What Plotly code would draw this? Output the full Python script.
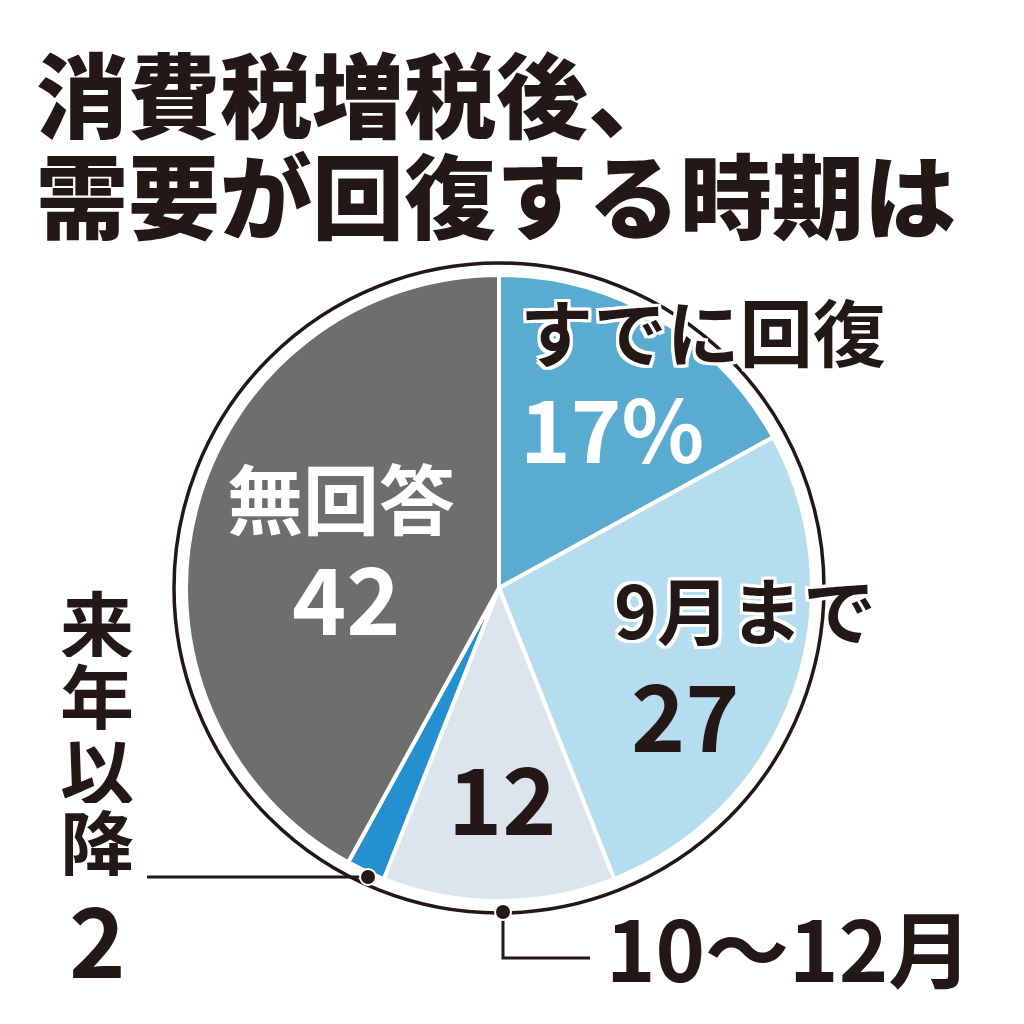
import plotly.graph_objects as go

# データ
labels = ["すでに回復", "9月まで", "10～12月", "来年以降", "無回答"]
values = [17, 27, 12, 2, 42]
colors = ["#5aabd0", "#b4ddef", "#dce4ee", "#2490cf", "#6e6e6e"]

W = H = 1024
OFF = 8  # ページ余白の補正
FONT = "Noto Sans CJK JP"
INK = "#231815"
HALO = ("white 3px 0px 0px, white -3px 0px 0px, white 0px 3px 0px, white 0px -3px 0px, "
        "white 3px 3px 0px, white -3px -3px 0px, white 3px -3px 0px, white -3px 3px 0px")


def px(x):
    return (x - OFF) / W


def py(y):
    return 1 - (y - OFF) / H


# 円の中心と半径 (ピクセル)
cx, cy, r = 499, 588, 313

fig = go.Figure(go.Pie(
    labels=labels, values=values,
    sort=False, direction="clockwise", rotation=0,
    marker=dict(colors=colors, line=dict(color="white", width=4)),
    textinfo="none", hoverinfo="label+value",
    domain=dict(x=[px(cx - r), px(cx + r)], y=[py(cy + r), py(cy - r)]),
    showlegend=False,
))

shapes = []
# 外側の黒い円
R = 325
shapes.append(dict(type="circle", xref="paper", yref="paper",
                   x0=px(cx - R), x1=px(cx + R), y0=py(cy + R), y1=py(cy - R),
                   line=dict(color=INK, width=3.5)))
# 引き出し線
shapes.append(dict(type="line", xref="paper", yref="paper",
                   x0=px(147), x1=px(368), y0=py(877), y1=py(877),
                   line=dict(color=INK, width=3)))
shapes.append(dict(type="path", xref="paper", yref="paper",
                   path=f"M {px(503)} {py(912)} L {px(503)} {py(958)} L {px(590)} {py(958)}",
                   line=dict(color=INK, width=3)))
# 点
for (x, y) in [(368, 877), (503, 912)]:
    shapes.append(dict(type="circle", xref="paper", yref="paper",
                       x0=px(x - 8), x1=px(x + 8), y0=py(y + 8), y1=py(y - 8),
                       fillcolor=INK, line=dict(color="white", width=2)))

annotations = []
DY = -7  # 文字の縦位置補正


def add_text(text, x, y, size, color=INK, halo=False, weight=700, xanchor="center", height=None):
    f = dict(family=FONT, size=size, color=color, weight=weight)
    if halo:
        f["shadow"] = HALO
    a = dict(text=text, x=px(x), y=py(y + DY), xref="paper", yref="paper",
             showarrow=False, xanchor=xanchor, yanchor="middle", font=f)
    if height:
        a["height"] = height
    annotations.append(a)


# タイトル
add_text("消費税増税後、", 34, 97, 92, weight=900, xanchor="left")
add_text("需要が回復する時期は", 34, 198, 92, weight=900, xanchor="left")

# ラベル
add_text("すでに回復", 703, 336, 73, halo=True)
add_text("17%", 612, 432, 86, color="white")
add_text("9月まで", 745, 614, 73, halo=True)
add_text("27", 685, 718, 92)
add_text("12", 502, 801, 92)
add_text("無回答", 341, 503, 76, color="white")
add_text("42", 346, 601, 92, color="white")
for i, ch in enumerate("来年以降"):
    add_text(ch, 97, 628 + i * 73, 74, height=72)
add_text("2", 97, 943, 96)
add_text("10～12月", 604, 952, 84, xanchor="left")

fig.update_layout(
    width=W, height=H,
    margin=dict(l=0, r=0, t=0, b=0),
    paper_bgcolor="white", plot_bgcolor="white",
    shapes=shapes, annotations=annotations,
)

fig.write_html("out.html")
